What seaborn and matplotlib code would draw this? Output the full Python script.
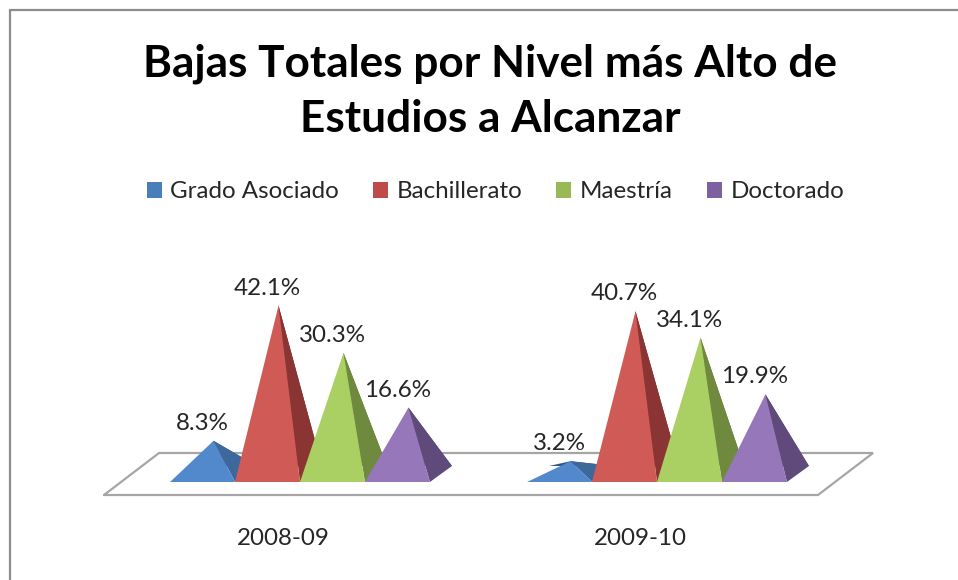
#!/usr/bin/env python3
"""Pyramid chart of total dropouts by highest study level."""

import matplotlib

matplotlib.use("Agg")

import matplotlib.pyplot as plt
import pandas as pd
import seaborn as sns
from matplotlib.lines import Line2D
from matplotlib.patches import Patch

years = ["2008-09", "2009-10"]
levels = ["Grado Asociado", "Bachillerato", "Maestría", "Doctorado"]
grado_asociado = [8.3, 3.2]
bachillerato = [42.1, 40.7]
maestria = [30.3, 34.1]
doctorado = [16.6, 19.9]

legend_colors = ["#4a7ebb", "#be4b48", "#98b954", "#7d60a0"]
front_colors = ["#5289cc", "#d05a56", "#aad064", "#9677b9"]
side_colors = ["#3d689c", "#8a3533", "#6f8a3f", "#604a7c"]
back_colors = ["#2f5582", "#6f2a28", "#5a7032", "#4d3c64"]

W, H = 958, 580
PX_X = 357  # pixels per category
PX_Y = 4.0  # pixels per percent
X0, Y0 = 300, 474  # pixel of first category, zero value
LABEL_SIZE = 17.4


def main() -> None:
    sns.set_theme(style="white")
    plt.rcParams["font.family"] = ["Lato", "DejaVu Sans"]

    df = pd.DataFrame(
        {
            "year": years * 4,
            "level": [lv for lv in levels for _ in years],
            "value": grado_asociado + bachillerato + maestria + doctorado,
        }
    )

    fig = plt.figure(figsize=(W / 100, H / 100), dpi=100)
    floor_px = 495
    ax = fig.add_axes([0, (H - floor_px) / H, 1, floor_px / H])
    ax.patch.set_alpha(0)

    sns.barplot(
        data=df, x="year", y="value", hue="level", order=years, hue_order=levels,
        palette=legend_colors, width=0.728, gap=0, legend=False, ax=ax,
    )
    ax.set_xlim(-X0 / PX_X, (W - X0) / PX_X)
    ax.set_ylim((Y0 - floor_px) / PX_Y, Y0 / PX_Y)

    # Depth of the pyramid base in data units (oblique projection).
    depth_x = 22 / PX_X
    depth_y = 16 / PX_Y

    # Floor plate.
    skew = 55 / PX_X
    half = 42 / PX_Y * 0.5
    left, right = -0.549, 1.451
    ax.plot(
        [left, right, right + skew, left + skew, left],
        [-half, -half, half, half, -half],
        color="#a6a6a6", lw=1.6, solid_joinstyle="miter", zorder=1, clip_on=False,
    )

    # Turn each seaborn bar into a pyramid, left to right so they overlap correctly.
    bars = []
    for idx, container in enumerate(ax.containers):
        for bar in container:
            bars.append((bar, idx))
    bars.sort(key=lambda item: item[0].get_x())

    for order, (bar, idx) in enumerate(bars):
        bar.set_visible(False)
        x0 = bar.get_x()
        x1 = x0 + bar.get_width()
        val = bar.get_height()
        mid = (x0 + x1) / 2
        front = -depth_y / 2
        back = depth_y / 2
        apex = (mid + depth_x / 2, val)
        z = 2 + order * 0.1
        ax.fill(
            [x0 + depth_x, x1 + depth_x, apex[0]], [back, back, apex[1]],
            color=back_colors[idx], lw=0, zorder=z,
        )
        ax.fill(
            [x1, x1 + depth_x, apex[0]], [front, back, apex[1]],
            color=side_colors[idx], lw=0, zorder=z + 0.01,
        )
        ax.fill(
            [x0, x1, apex[0]], [front, front, apex[1]],
            color=front_colors[idx], lw=0, zorder=z + 0.02,
        )
        ax.annotate(
            f"{val:.1f}%", xy=(mid, val), xytext=(0, 12.6), textcoords="offset points",
            ha="center", va="center", fontsize=LABEL_SIZE, color="#262626", zorder=10,
        )

    for spine in ax.spines.values():
        spine.set_visible(False)
    ax.set_xlabel("")
    ax.set_ylabel("")
    ax.set_yticks([])
    ax.set_xticks([i - 17 / PX_X for i in range(len(years))], years)
    ax.tick_params(axis="x", length=0, pad=24, labelsize=LABEL_SIZE, labelcolor="#262626")

    fig.text(
        490 / W, 1 - 91 / H, "Bajas Totales por Nivel más Alto de\nEstudios a Alcanzar",
        ha="center", va="center", fontsize=31.8, fontweight="bold", color="black", linespacing=1.45,
    )

    handles = [Patch(facecolor=c, edgecolor="none") for c in legend_colors]
    fig.legend(
        handles, levels, loc="center", bbox_to_anchor=(495.5 / W, 1 - 192 / H), ncol=4,
        frameon=False, fontsize=LABEL_SIZE, labelcolor="#262626", handlelength=0.62,
        handleheight=0.62, handletextpad=0.36, columnspacing=1.4,
    )

    # Chart frame: only the top and left edges are in the crop.
    fig.add_artist(Line2D([10 / W, 10 / W], [0, 1 - 10 / H], color="#8c8c8c", lw=1.6))
    fig.add_artist(Line2D([10 / W, 1], [1 - 10 / H, 1 - 10 / H], color="#8c8c8c", lw=1.6))

    fig.savefig("out.png", dpi=100)
    plt.close(fig)


if __name__ == "__main__":
    main()
